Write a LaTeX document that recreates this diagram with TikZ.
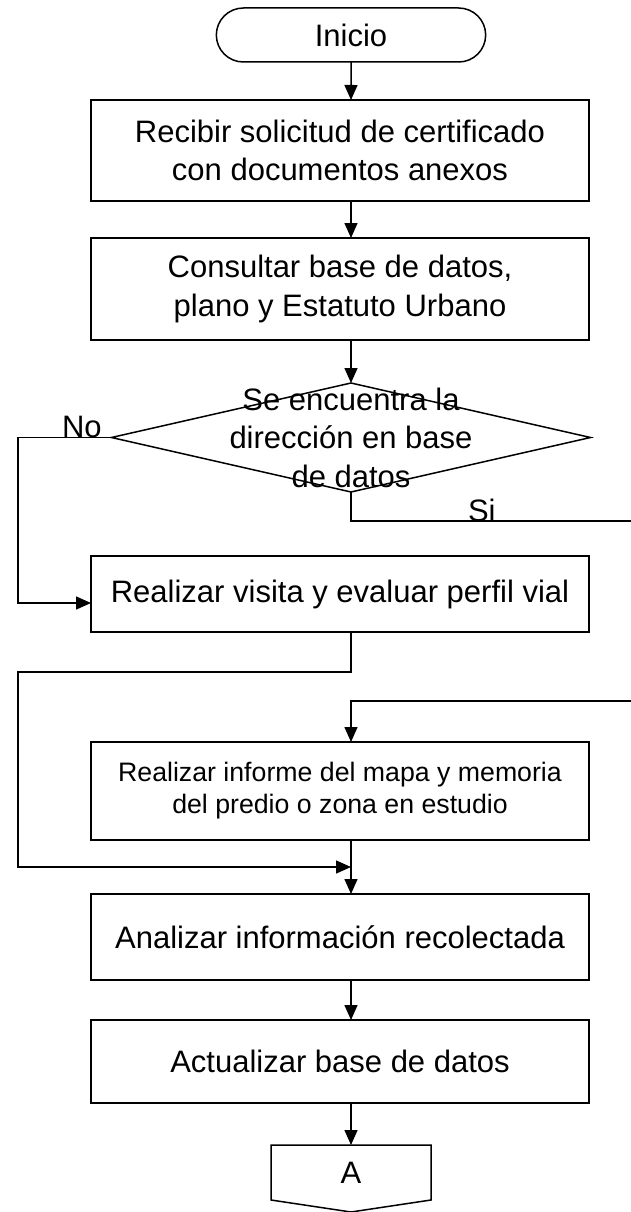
\documentclass[tikz,border=0pt]{standalone}
\usepackage{fontspec}
\setmainfont{Liberation Sans}
\usetikzlibrary{arrows.meta,positioning,calc,shapes.geometric,shapes.misc}

\begin{document}
\begin{tikzpicture}[
  x=1pt, y=-1pt,
  line width=1.5pt,
  every node/.append style={outer sep=0pt},
  big/.style={font=\fontsize{31}{38.5}\selectfont},
  term/.style={draw, big, rounded rectangle, minimum width=276pt, minimum height=54pt},
  proc/.style={draw, big, align=center, minimum width=498pt, minimum height=84pt},
  tall/.style={proc, minimum height=101pt},
  small/.style={proc, font=\fontsize{26.7}{32}\selectfont, minimum height=98pt},
  decision/.style={draw, diamond, minimum width=479pt, minimum height=109pt, inner sep=0pt},
  offpage/.style={big, minimum width=160pt, minimum height=55pt},
  tag/.style={big, inner sep=0pt, anchor=base west},
  arrow/.style={-{Triangle[length=15pt, width=13pt]}}
]
\useasboundingbox (0,0) rectangle (631,1212);

\node[term] (inicio) at (351,35) {Inicio};
\node[tall, below=38pt of inicio, xshift=-11pt] (recibir) {Recibir solicitud de certificado\\con documentos anexos};
\node[tall, below=37pt of recibir, minimum height=102pt] (consultar) {Consultar base de datos,\\plano y Estatuto Urbano};
\node[decision, below=43pt of consultar, xshift=11pt] (decision) {};
\node[big, align=center] (dectext) at (decision) {Se encuentra la\\dirección en base\\de datos};
\node[proc, below=64pt of decision, xshift=-11pt, minimum height=76pt] (visita) {Realizar visita y evaluar perfil vial};
\node[small, below=110pt of visita] (informe) {Realizar informe del mapa y memoria\\del predio o zona en estudio};
\node[proc, below=54pt of informe, minimum height=86pt] (analizar) {Analizar información recolectada};
\node[proc, below=40pt of analizar, minimum height=83pt] (actualizar) {Actualizar base de datos};
\node[offpage, below=42pt of actualizar, xshift=11pt] (conA) {A};
\draw (conA.north west) -- (conA.north east) -- (conA.south east)
  -- ([yshift=-12pt]conA.south) -- (conA.south west) -- cycle;

\node[tag] (nolabel) at (62,437) {No};
\node[tag] (silabel) at (468,521) {Si};

\coordinate (spine) at (inicio.south);
\coordinate (norail) at (18,603);
\coordinate (join) at ($(informe.south -| spine)!0.5!(analizar.north -| spine)$);
\coordinate (looprail) at ($(join)+(-333,0)$);
\coordinate (siout) at (631,521);
\coordinate (siin) at (631,701);

\draw[arrow] (inicio) -- (recibir.north -| spine);
\draw[arrow] (recibir.south -| spine) -- (consultar.north -| spine);
\draw[arrow] (consultar.south -| spine) -- (decision);
\draw[arrow] (decision.west) -| (norail) -- (norail -| visita.west);
\draw (decision.south) |- (siout);
\draw[arrow] (visita.south -| spine) -- ++(0,40) -| (looprail) -- (join);
\draw[arrow] (siin) -| (informe.north -| spine);
\draw[arrow] (informe.south -| spine) -- (analizar.north -| spine);
\draw[arrow] (analizar.south -| spine) -- (actualizar.north -| spine);
\draw[arrow] (actualizar.south -| spine) -- (conA);
\end{tikzpicture}
\end{document}
